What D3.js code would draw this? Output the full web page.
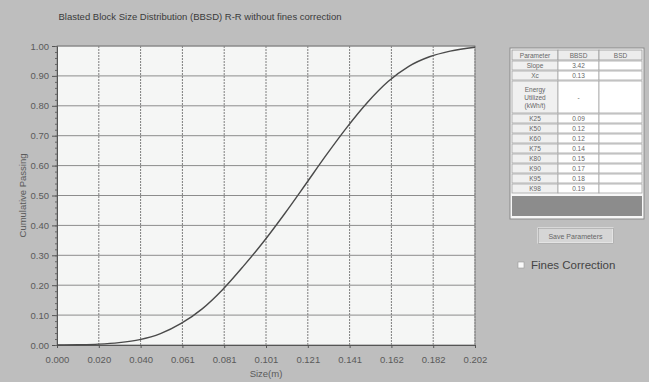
<!DOCTYPE html>
<html>
<head>
<meta charset="utf-8">
<script src="https://cdn.jsdelivr.net/npm/d3@7"></script>
<style>
  html, body { margin: 0; padding: 0; background: #bebebe; }
  svg { display: block; font-family: "Liberation Sans", Arial, sans-serif; }
</style>
</head>
<body>
<div id="chart"></div>
<script>
// curve (size in m, cumulative passing fraction)
const sizes = [0.000, 0.010, 0.020, 0.030, 0.040, 0.050, 0.060, 0.070, 0.080, 0.090, 0.100,
               0.110, 0.120, 0.130, 0.140, 0.150, 0.160, 0.170, 0.180, 0.190, 0.202];
const passing = [0.000, 0.001, 0.003, 0.008, 0.018, 0.038, 0.072, 0.120, 0.185, 0.263, 0.347,
                 0.439, 0.536, 0.634, 0.727, 0.811, 0.881, 0.932, 0.964, 0.983, 0.996];

const xTicks = [0.000, 0.0202, 0.0404, 0.0606, 0.0808, 0.101, 0.1212, 0.1414, 0.1616, 0.1818, 0.202];
const xTickLabels = ["0.000", "0.020", "0.040", "0.061", "0.081", "0.101", "0.121", "0.141", "0.162", "0.182", "0.202"];
const yTicks = [0, 0.1, 0.2, 0.3, 0.4, 0.5, 0.6, 0.7, 0.8, 0.9, 1.0];

const tableHeader = ["Parameter", "BBSD", "BSD"];
const tableRows = [
  ["Slope", "3.42", ""],
  ["Xc", "0.13", ""],
  ["Energy|Utilized|(kWh/t)", "-", ""],
  ["K25", "0.09", ""],
  ["K50", "0.12", ""],
  ["K60", "0.12", ""],
  ["K75", "0.14", ""],
  ["K80", "0.15", ""],
  ["K90", "0.17", ""],
  ["K95", "0.18", ""],
  ["K98", "0.19", ""]
];

const W = 649, H = 382;
const plot = { left: 57, right: 475, top: 46, bottom: 345 };

const svg = d3.select("#chart").append("svg")
  .attr("width", W).attr("height", H);

svg.append("rect").attr("width", W).attr("height", H).attr("fill", "#bebebe");

const x = d3.scaleLinear().domain([0, 0.202]).range([plot.left, plot.right]);
const y = d3.scaleLinear().domain([0, 1]).range([plot.bottom, plot.top]);

// plot background
svg.append("rect")
  .attr("x", plot.left).attr("y", plot.top)
  .attr("width", plot.right - plot.left).attr("height", plot.bottom - plot.top)
  .attr("fill", "#f5f6f5");

// horizontal grid (solid)
svg.append("g").selectAll("line").data(yTicks.slice(1)).join("line")
  .attr("x1", plot.left).attr("x2", plot.right)
  .attr("y1", d => y(d)).attr("y2", d => y(d))
  .attr("stroke", "#8c8c8c").attr("stroke-width", 1);

// vertical grid (dashed)
svg.append("g").selectAll("line").data(xTicks.slice(1)).join("line")
  .attr("x1", d => x(d)).attr("x2", d => x(d))
  .attr("y1", plot.top).attr("y2", plot.bottom)
  .attr("stroke", "#7e7e7e").attr("stroke-width", 1)
  .attr("stroke-dasharray", "2,1");

// frame
svg.append("rect")
  .attr("x", plot.left).attr("y", plot.top)
  .attr("width", plot.right - plot.left).attr("height", plot.bottom - plot.top)
  .attr("fill", "none").attr("stroke", "#8a8a8a");

// y axis
const yAxis = d3.axisLeft(y).tickValues(yTicks).tickFormat(d3.format(".2f"))
  .tickSize(5).tickPadding(3);
const gy = svg.append("g").attr("transform", `translate(${plot.left},0)`).call(yAxis);
svg.append("g").attr("transform", `translate(${plot.left},0)`)
  .call(d3.axisLeft(y).tickValues(d3.range(0, 1.001, 0.02)).tickSize(2).tickFormat(""))
  .call(g => g.select(".domain").remove())
  .call(g => g.selectAll(".tick line").attr("stroke", "#666"));

// x axis
const xAxis = d3.axisBottom(x).tickValues(xTicks)
  .tickFormat((d, i) => xTickLabels[i]).tickSize(3).tickPadding(8);
const gx = svg.append("g").attr("transform", `translate(0,${plot.bottom})`).call(xAxis);

[gx, gy].forEach(g => {
  g.select(".domain").attr("stroke", "#555");
  g.selectAll(".tick line").attr("stroke", "#555");
  g.selectAll(".tick text").attr("fill", "#5a5a5a").attr("font-size", 9.5)
    .attr("font-family", "'Liberation Sans', Arial, sans-serif");
});

// curve
const pts = sizes.map((s, i) => ({ s, p: passing[i] }));
svg.append("path").datum(pts)
  .attr("fill", "none").attr("stroke", "#4a4a4a").attr("stroke-width", 1.4)
  .attr("d", d3.line().x(d => x(d.s)).y(d => y(d.p)).curve(d3.curveMonotoneX));

// titles
svg.append("text").attr("x", 200).attr("y", 20).attr("text-anchor", "middle")
  .attr("font-size", 9.5).attr("fill", "#3a3a3a")
  .text("Blasted Block Size Distribution (BBSD) R-R without fines correction");

svg.append("text").attr("x", (plot.left + plot.right) / 2).attr("y", 377).attr("text-anchor", "middle")
  .attr("font-size", 9.5).attr("fill", "#5a5a5a").text("Size(m)");

svg.append("text").attr("transform", `translate(26,${(plot.top + plot.bottom) / 2}) rotate(-90)`)
  .attr("text-anchor", "middle").attr("font-size", 9.5).attr("fill", "#5a5a5a")
  .text("Cumulative Passing");

// parameter table
const tbl = svg.append("g");
const colX = [512, 558, 599, 642];
tbl.append("rect").attr("x", 510).attr("y", 48).attr("width", 134).attr("height", 171)
  .attr("fill", "#f7f7f7").attr("stroke", "#8a8a8a");

const rowH = tableRows.map(r => r[0].includes("|") ? 33 : 10);
const rowY = [];
let yy = 60;
rowH.forEach(h => { rowY.push(yy); yy += h; });

// header
tableHeader.forEach((t, i) => {
  tbl.append("rect").attr("x", colX[i]).attr("y", 50).attr("width", colX[i + 1] - colX[i]).attr("height", 10)
    .attr("fill", "#ececec").attr("stroke", "#9a9a9a").attr("stroke-width", 0.8);
  tbl.append("text").attr("x", (colX[i] + colX[i + 1]) / 2).attr("y", 57.5)
    .attr("text-anchor", "middle").attr("font-size", 6.5).attr("fill", "#666").text(t);
});

tableRows.forEach((r, ri) => {
  const y0 = rowY[ri], h = rowH[ri];
  r.forEach((t, ci) => {
    tbl.append("rect").attr("x", colX[ci]).attr("y", y0 + 1).attr("width", colX[ci + 1] - colX[ci]).attr("height", h - 1)
      .attr("fill", ci === 0 ? "#f0f0f0" : "#ffffff").attr("stroke", "#a5a5a5").attr("stroke-width", 0.8);
    const lines = t.split("|");
    lines.forEach((ln, li) => {
      tbl.append("text").attr("x", (colX[ci] + colX[ci + 1]) / 2)
        .attr("y", y0 + h / 2 + 3 + (li - (lines.length - 1) / 2) * 8)
        .attr("text-anchor", "middle").attr("font-size", 6.5).attr("fill", "#666").text(ln);
    });
  });
});

tbl.append("rect").attr("x", 512).attr("y", 196).attr("width", 130).attr("height", 20).attr("fill", "#8c8c8c");

// button
svg.append("rect").attr("x", 538).attr("y", 228).attr("width", 75).attr("height", 15)
  .attr("fill", "#d6d6d6").attr("stroke", "#f2f2f2");
svg.append("rect").attr("x", 538.5).attr("y", 228.5).attr("width", 75).attr("height", 15)
  .attr("fill", "none").attr("stroke", "#9a9a9a").attr("stroke-width", 0.6);
svg.append("text").attr("x", 575.5).attr("y", 238.5).attr("text-anchor", "middle")
  .attr("font-size", 7).attr("fill", "#666").text("Save Parameters");

// checkbox
svg.append("rect").attr("x", 518).attr("y", 262).attr("width", 6).attr("height", 6)
  .attr("fill", "#fafafa").attr("stroke", "#999").attr("stroke-width", 0.6);
svg.append("text").attr("x", 531).attr("y", 269).attr("font-size", 11.5).attr("fill", "#444")
  .text("Fines Correction");
</script>
</body>
</html>
